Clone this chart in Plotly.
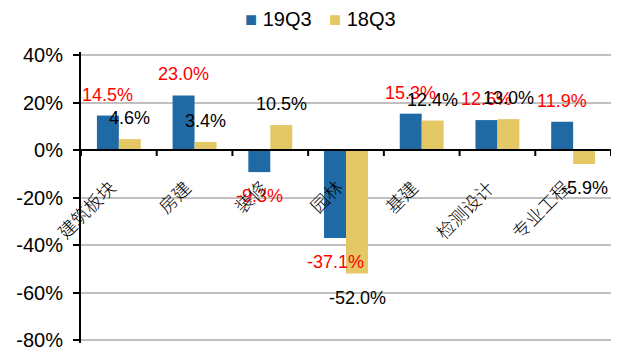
import plotly.graph_objects as go

categories = ["建筑板块", "房建", "装修", "园林", "基建", "检测设计", "专业工程"]
q3_2019 = [14.5, 23.0, -9.3, -37.1, 15.3, 12.6, 11.9]
q3_2018 = [4.6, 3.4, 10.5, -52.0, 12.4, 13.0, -5.9]
series_names = ["19Q3", "18Q3"]
y_ticks = [40, 20, 0, -20, -40, -60, -80]

BLUE = "#1F6AA5"
GOLD = "#E4C866"
LATIN = "Liberation Sans, Arial, sans-serif"
CJK = "Noto Sans CJK SC, sans-serif"

W, H = 620, 348
LEFT, RIGHT, TOP, BOTTOM = 81, 9, 55, 8
y_min, y_max = -80, 40
px_per_unit = (H - TOP - BOTTOM) / (y_max - y_min)
edge_px = 3                      # keep the end gridlines off the plot edge
pad = edge_px / px_per_unit

fig = go.Figure()
fig.add_trace(go.Bar(name=series_names[0], x=categories, y=q3_2019,
                     marker=dict(color=BLUE, line=dict(width=0))))
fig.add_trace(go.Bar(name=series_names[1], x=categories, y=q3_2018,
                     marker=dict(color=GOLD, line=dict(width=0))))

annotations = []

# value labels: red for 19Q3, black for 18Q3, beyond the bar end
for values, color, dx in ((q3_2019, "#FF0000", -11), (q3_2018, "#000000", 11)):
    for cat, v in zip(categories, values):
        annotations.append(dict(
            x=cat, y=v, xref="x", yref="y", text=f"{v:.1f}%",
            showarrow=False, xshift=dx, yshift=21 if v >= 0 else -24,
            font=dict(family=LATIN, size=18, color=color),
            xanchor="center", yanchor="middle"))

# category names, slanted, hanging below the zero axis
for cat in categories:
    annotations.append(dict(
        x=cat, y=0, xref="x", yref="y", text=cat, textangle=-45,
        showarrow=False, xanchor="right", yanchor="top",
        xshift=3, yshift=-23, borderpad=0,
        font=dict(family=CJK, size=18, color="#000000", weight=300)))

# legend entries
plot_w = W - LEFT - RIGHT
plot_h = H - TOP - BOTTOM
for name, color, left_px in ((series_names[0], BLUE, 244), (series_names[1], GOLD, 328)):
    annotations.append(dict(
        x=(left_px - LEFT) / plot_w, y=1 + (TOP - edge_px - 19) / (plot_h + 2 * edge_px),
        xref="paper", yref="paper", xanchor="left", yanchor="middle",
        showarrow=False, borderpad=0,
        text=f'<span style="color:{color}">■</span> {name}',
        font=dict(family="Liberation Sans, DejaVu Sans, sans-serif", size=20,
                  color="#000000")))

# category axis drawn along zero, above the bars, with boundary tick marks
shapes = [dict(type="line", xref="paper", yref="y", x0=0, x1=1, y0=0, y1=0,
               line=dict(color="#000000", width=2))]
for i in range(len(categories) + 1):
    shapes.append(dict(
        type="line", xref="x", yref="y", x0=i - 0.5, x1=i - 0.5,
        ysizemode="pixel", yanchor=0, y0=0, y1=-6,
        line=dict(color="#000000", width=2)))

fig.update_layout(
    width=W, height=H,
    margin=dict(l=LEFT, r=RIGHT, t=TOP - edge_px, b=BOTTOM - edge_px,
                autoexpand=False),
    paper_bgcolor="white", plot_bgcolor="white",
    barmode="group", bargap=0.42, bargroupgap=0,
    showlegend=False,
    annotations=annotations,
    shapes=shapes,
    xaxis=dict(
        range=[-0.5, len(categories) - 0.5], automargin=False,
        showline=False, showticklabels=False, ticks="",
        showgrid=False, zeroline=False,
    ),
    yaxis=dict(
        range=[y_min - pad, y_max + pad], tickvals=y_ticks,
        ticktext=[f"{t}%" for t in y_ticks],
        automargin=False, ticklabeloverflow="allow",
        showline=True, linecolor="#000000", linewidth=2,
        ticks="outside", ticklen=6, tickwidth=2, tickcolor="#000000",
        ticklabelstandoff=6,
        showgrid=True, gridcolor="#C0C0C0", gridwidth=2,
        zeroline=False,
        tickfont=dict(family=LATIN, size=20, color="#000000"),
    ),
)

fig.write_html("out.html")
